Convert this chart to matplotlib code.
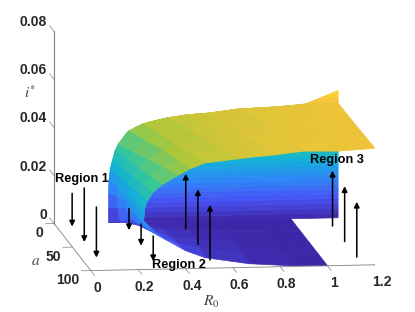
import numpy as np
import matplotlib
matplotlib.use('Agg')
import matplotlib.pyplot as plt
from matplotlib.colors import LinearSegmentedColormap, Normalize
from mpl_toolkits.mplot3d import proj3d

plt.rcParams['font.family'] = ['Liberation Sans', 'DejaVu Sans']
plt.rcParams['mathtext.fontset'] = 'stix'

# fold surface: one row per a value
a_rows = [0, 25, 50, 75, 100]
r0_a0 = [1.0, .85, .7, .55, .42, .32, .23, .23, .23, .2326, .237, .247, .258, .271, .313, .376, .478, .562, .66, .778, .922, 1.061, 1.2]
z_a0 = [0, 0, 0, 0, 0, 0, 0, .006, .012, .0174, .0223, .0261, .0298, .0326, .0379, .0407, .043, .0441, .0447, .0461, .0466, .0476, .0477]
r0_a25 = [1, .85, .695, .535, .415, .32, .24, .228, .229, .231, .2375, .251, .269, .293, .346, .403, .514, .596, .685, .809, .951, 1.075, 1.2]
z_a25 = [0, 0, .0003, .001, .0018, .0035, .0055, .011, .0155, .0195, .024, .0275, .0312, .0343, .0387, .0414, .0436, .0446, .0452, .0466, .0469, .0477, .0478]
r0_a50 = [1.0, .85, .69, .52, .41, .32, .25, .225, .228, .229, .238, .255, .28, .315, .38, .43, .55, .63, .71, .84, .98, 1.09, 1.2]
z_a50 = [0, .0001, .0006, .002, .0035, .0065, .011, .016, .019, .0215, .0255, .029, .0325, .036, .0395, .042, .0442, .0451, .0456, .047, .0472, .0478, .048]
r0_a75 = [1, .85, .68, .50, .405, .322, .257, .224, .2275, .228, .239, .26, .29, .34, .40, .456, .586, .665, .738, .871, 1.015, 1.105, 1.2]
z_a75 = [0, .0002, .001, .0032, .0055, .0092, .0135, .0182, .0209, .0232, .027, .0306, .0338, .0374, .0405, .043, .0447, .0456, .0461, .0475, .0474, .0479, .0483]
r0_a100 = [1.0, .85, .67, .483, .4, .324, .265, .223, .227, .227, .24, .265, .3, .366, .42, .483, .622, .7, .765, .903, 1.05, 1.12, 1.2]
z_a100 = [0, .0003, .0015, .0044, .0075, .0118, .016, .0203, .0227, .0249, .0286, .0322, .035, .0387, .0415, .0438, .0452, .046, .0465, .0479, .0476, .048, .0485]

# wall standing at a=0
wall_r0 = [.2326, .26, .3, .34, .376, .43, .478, .562, .66, .778, .922, 1.0, 1.061, 1.1, 1.15, 1.2]
wall_top = [.0174, .03, .036, .039, .0407, .042, .043, .0441, .0447, .0461, .0466, .047, .0476, .049, .051, .053]
wall_levels = [0, .002, .004, .006, .008, .01, .012, .014, .016, .018, .02, .022, .024, .026, .028, .03, .032, .034, .036, .038, .04, .042, .044, .046, .048, .05, .052, .054]

# arrows: R0, a, z tail, z tip
arrow_r0 = [.05, .05, .05, .29, .29, .29, .53, .53, .53, 1.15, 1.15, 1.15]
arrow_a = [17, 50, 83, 17, 50, 83, 17, 50, 83, 17, 50, 83]
arrow_tail = [.0158, .0245, .023, .009, .009, .0105, 0, 0, 0, 0, 0, 0]
arrow_tip = [.002, .002, .002, 0, 0, 0, .023, .023, .023, .023, .023, .023]

x_ticks = [0, .2, .4, .6, .8, 1, 1.2]
x_labels = ['0', '0.2', '0.4', '0.6', '0.8', '1', '1.2']
y_ticks = [0, 50, 100]
y_labels = ['0', '50', '100']
z_ticks = [0, .02, .04, .06, .08]
z_labels = ['0', '0.02', '0.04', '0.06', '0.08']

parula = LinearSegmentedColormap.from_list('parula', [
    (.2422, .1504, .6603), (.2810, .3228, .9579), (.1786, .5289, .9682), (.0689, .6948, .8394),
    (.2161, .7843, .5923), (.6720, .7793, .2227), (.9970, .7659, .2199), (.9769, .9839, .0805)])
norm = Normalize(0, .058)

fig = plt.figure(figsize=(4.15, 3.12), dpi=100)
side = 330 / 415
ax = fig.add_axes([210 / 415 - side / 2, 1 - 152.5 / 312 - (330 / 312) / 2, side, 330 / 312],
                  projection='3d', computed_zorder=False, proj_type='ortho')
ax.set_xlim(0, 1.2)
ax.set_ylim(100, 0)
ax.set_zlim(0, .08)
ax.set_box_aspect((288, 295, 196), zoom=1.335)
ax.view_init(elev=9.3, azim=-97.2)
ax.set_axis_off()
ax.patch.set_alpha(0)


def draw_surface(x, y, z, order):
    s = ax.plot_surface(x, y, z, cmap=parula, norm=norm, rstride=1, cstride=1,
                        linewidth=0, shade=False, zorder=order)
    # same colour on the edges, closes the seams between facets
    cols = parula(norm(s.get_array()))
    s.set_array(None)
    s.set_facecolor(cols)
    s.set_edgecolor(cols)
    s.set_linewidth(.5)


# wall then sheet
wall_x = np.tile(np.array(wall_r0)[:, None], (1, len(wall_levels)))
wall_y = np.zeros_like(wall_x)
wall_z = np.minimum.outer(np.array(wall_top), np.array(wall_levels))
draw_surface(wall_x, wall_y, wall_z, 1)

sheet_x = np.array([r0_a0, r0_a25, r0_a50, r0_a75, r0_a100])
sheet_z = np.array([z_a0, z_a25, z_a50, z_a75, z_a100])
sheet_y = np.tile(np.array(a_rows)[:, None], (1, sheet_x.shape[1]))
draw_surface(sheet_x, sheet_y, sheet_z, 2)

# box edges and ticks
axc = '#808080'
ax.plot([0, 0], [0, 0], [0, .08], color=axc, lw=.8, zorder=3)
ax.plot([0, 0], [0, 100], [0, 0], color=axc, lw=.6, zorder=3)
ax.plot([0, 1.2], [100, 100], [0, 0], color=axc, lw=.6, zorder=3)
for t in z_ticks:
    ax.plot([0, 0], [0, -12], [t, t], color=axc, lw=.5, zorder=3)
for t in y_ticks:
    ax.plot([0, -.04], [t, t], [0, 0], color=axc, lw=.5, zorder=3)
for t in x_ticks:
    ax.plot([t, t], [100, 110], [0, 0], color=axc, lw=.5, zorder=3)


def to2d(x, y, z):
    u, v, _ = proj3d.proj_transform(x, y, z, ax.get_proj())
    return u, v


def tick_text(s, pos, off, ha):
    ax.annotate(s, xy=to2d(*pos), xytext=off, textcoords='offset pixels', ha=ha, va='center',
                fontsize=10, fontweight='bold', color='#262626', zorder=6)


for t, s in zip(x_ticks, x_labels):
    tick_text(s, (t, 100, 0), (6.5, -17), 'center')
for t, s in zip(y_ticks, y_labels):
    tick_text(s, (0, t, 0), (-11, -9.5), 'right')
for t, s in zip(z_ticks, z_labels):
    tick_text(s, (0, 0, t), (-7, 9), 'right')

for x, y, z0, z1 in zip(arrow_r0, arrow_a, arrow_tail, arrow_tip):
    ax.annotate('', xy=to2d(x, y, z1), xytext=to2d(x, y, z0),
                arrowprops=dict(arrowstyle='-|>', color='k', lw=1.1, mutation_scale=8, shrinkA=0, shrinkB=0),
                zorder=7)

fig.text(82 / 415, 1 - 179 / 312, 'Region 1', ha='center', va='center', fontsize=9.2, fontweight='bold')
fig.text(179 / 415, 1 - 265 / 312, 'Region 2', ha='center', va='center', fontsize=9.2, fontweight='bold')
fig.text(337 / 415, 1 - 160 / 312, 'Region 3', ha='center', va='center', fontsize=9.2, fontweight='bold')

fig.text(30 / 415, 1 - 93 / 312, r'$i^{*}$', ha='center', va='center', fontsize=11, color='#404040')
fig.text(36 / 415, 1 - 261 / 312, r'$a$', ha='center', va='center', fontsize=11, color='#404040')
fig.text(211 / 415, 1 - 302 / 312, r'$R_0$', ha='center', va='center', fontsize=11, color='#404040')

fig.savefig('out.png', dpi=100)
